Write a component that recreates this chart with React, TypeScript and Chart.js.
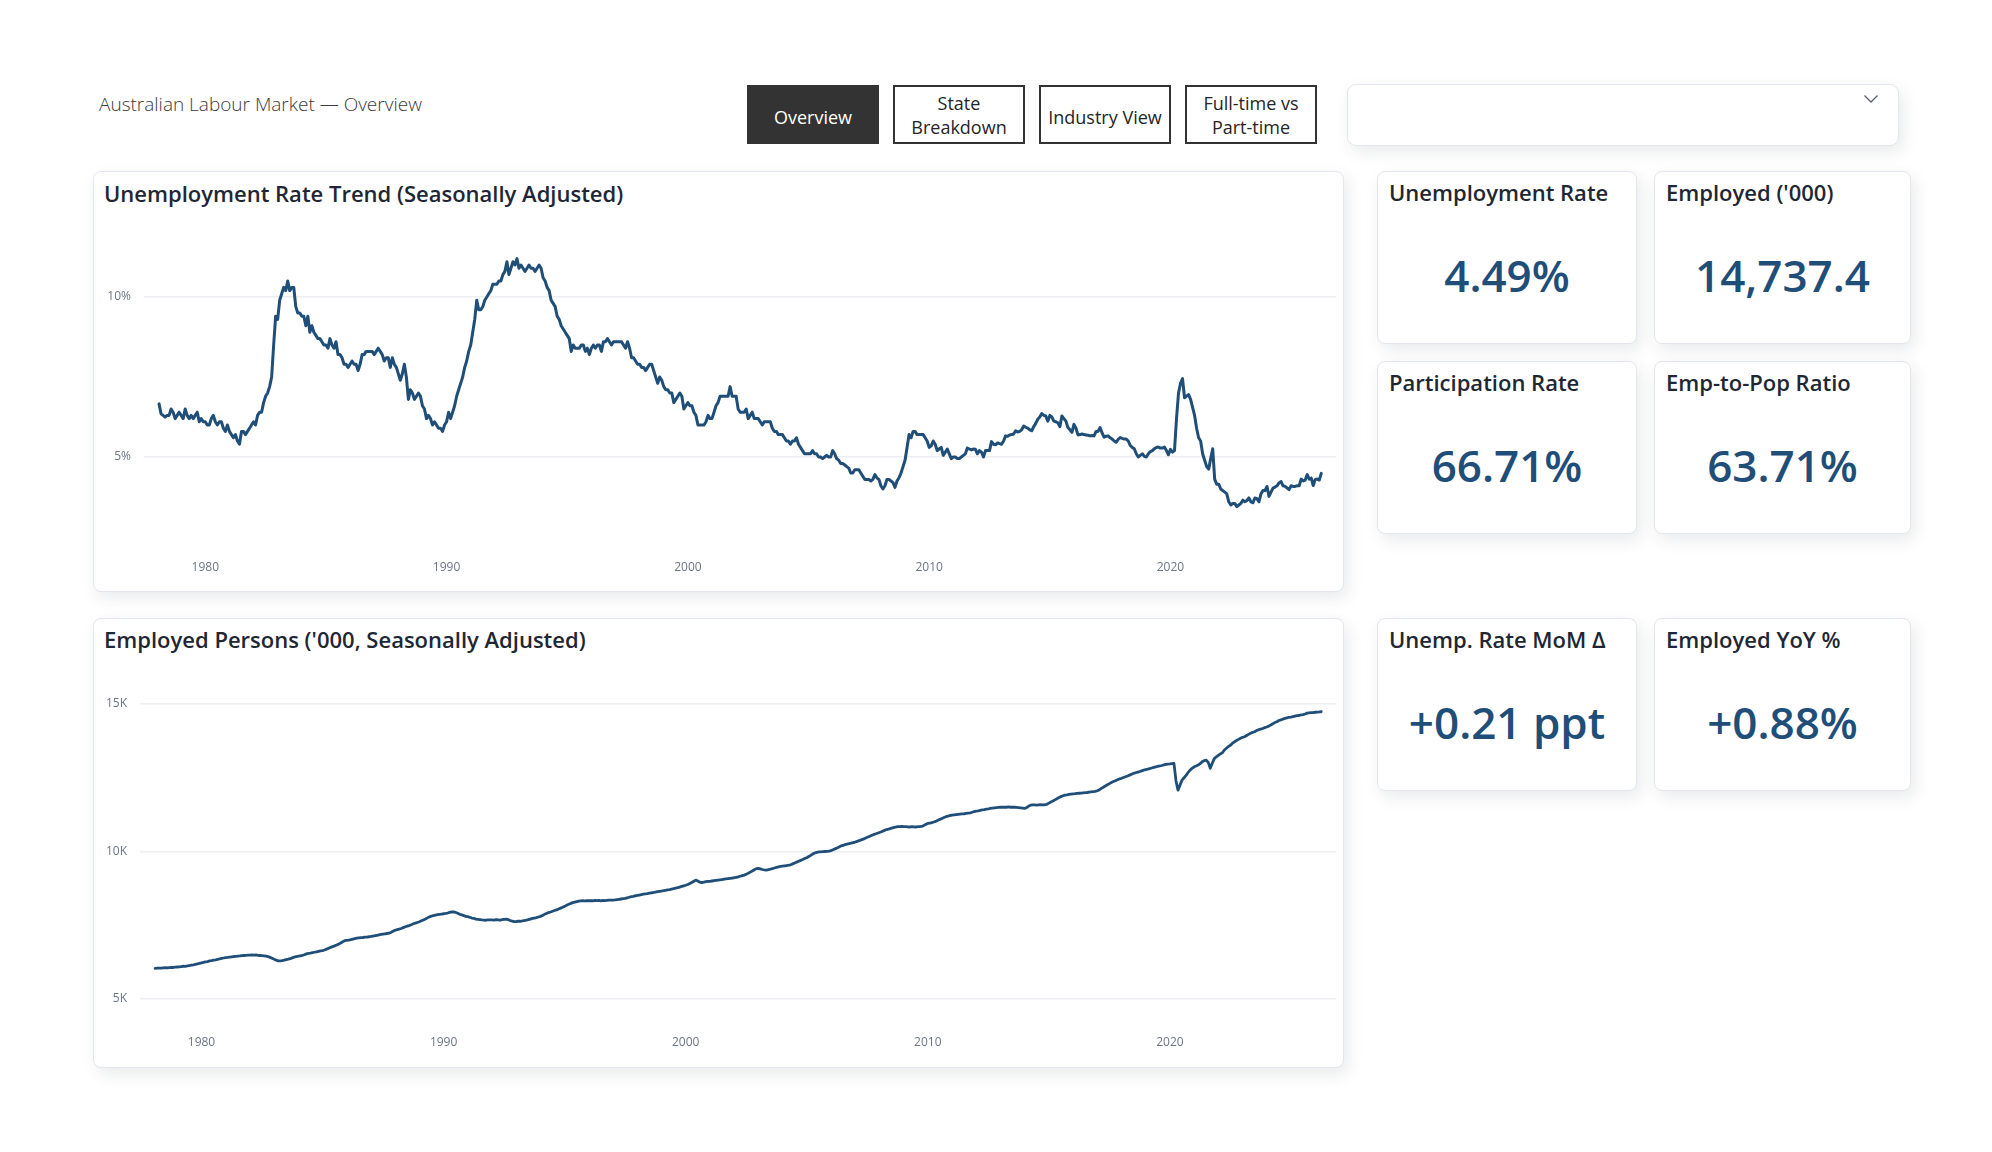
import React, { useEffect, useRef } from "react";
import { Chart, registerables } from "chart.js";

Chart.register(...registerables);

// ---------- DATA ----------
const FIRST_YEAR = 1978;
const FIRST_MONTH = 2; // Feb 1978, monthly observations

// Unemployment rate, % (seasonally adjusted), Feb 1978 .. Apr 2026
const unemploymentRate = [
  // 1978 (Feb-Dec)
  6.66, 6.35, 6.3, 6.25, 6.3, 6.3, 6.5, 6.4, 6.2, 6.3, 6.4,
  // 1979
  6.3, 6.2, 6.5, 6.3, 6.2, 6.3, 6.2, 6.3, 6.4, 6.1, 6.2, 6.1,
  // 1980
  6.1, 6.0, 6.0, 6.2, 6.3, 6.1, 6.0, 6.1, 6.1, 5.9, 5.8, 6.0,
  // 1981
  5.8, 5.7, 5.6, 5.7, 5.5, 5.4, 5.8, 5.8, 5.7, 5.8, 5.9, 6.0,
  // 1982
  6.1, 6.0, 6.3, 6.4, 6.4, 6.7, 6.9, 7.0, 7.2, 7.5, 8.5, 9.4,
  // 1983
  9.3, 9.9, 10.1, 10.3, 10.2, 10.5, 10.2, 10.3, 10.3, 9.7, 9.5, 9.5,
  // 1984
  9.4, 9.4, 9.1, 9.4, 8.9, 9.1, 8.9, 8.8, 8.7, 8.7, 8.6, 8.5,
  // 1985
  8.5, 8.4, 8.7, 8.5, 8.4, 8.6, 8.2, 8.2, 8.1, 7.9, 7.9, 7.8,
  // 1986
  7.9, 8.0, 7.9, 7.9, 7.7, 7.9, 8.2, 8.2, 8.3, 8.3, 8.3, 8.3,
  // 1987
  8.2, 8.3, 8.4, 8.3, 8.2, 8.0, 8.1, 8.1, 7.8, 8.1, 7.9, 7.8,
  // 1988
  7.6, 7.4, 7.6, 7.9, 7.5, 6.8, 7.1, 7.0, 6.8, 6.9, 7.0, 6.9,
  // 1989
  6.6, 6.5, 6.2, 6.3, 6.2, 6.0, 6.1, 6.0, 5.9, 5.9, 5.8, 6.0,
  // 1990
  6.1, 6.4, 6.2, 6.4, 6.6, 6.9, 7.1, 7.3, 7.5, 7.8, 8.0, 8.3,
  // 1991
  8.5, 8.9, 9.3, 9.9, 9.6, 9.6, 9.7, 9.9, 10.0, 10.1, 10.2, 10.4,
  // 1992
  10.4, 10.4, 10.5, 10.5, 10.7, 10.8, 11.1, 10.7, 10.9, 11.1, 11.0, 11.2,
  // 1993
  10.9, 11.0, 10.9, 10.8, 10.9, 11.0, 10.9, 10.9, 10.8, 10.9, 11.0, 10.9,
  // 1994
  10.6, 10.5, 10.3, 10.2, 9.9, 9.8, 9.7, 9.4, 9.3, 9.1, 9.0, 8.9,
  // 1995
  8.8, 8.7, 8.3, 8.5, 8.4, 8.4, 8.4, 8.5, 8.5, 8.3, 8.4, 8.2,
  // 1996
  8.4, 8.5, 8.4, 8.5, 8.5, 8.3, 8.6, 8.6, 8.7, 8.6, 8.5, 8.6,
  // 1997
  8.6, 8.6, 8.6, 8.6, 8.5, 8.4, 8.6, 8.4, 8.1, 8.1, 8.0, 7.9,
  // 1998
  7.9, 7.8, 7.8, 7.7, 7.8, 7.9, 7.9, 7.7, 7.5, 7.3, 7.5, 7.4,
  // 1999
  7.2, 7.1, 7.1, 7.0, 7.0, 6.7, 6.8, 6.9, 7.0, 6.9, 6.5, 6.6,
  // 2000
  6.7, 6.6, 6.6, 6.4, 6.3, 6.0, 6.0, 6.0, 6.0, 6.1, 6.3, 6.2,
  // 2001
  6.2, 6.4, 6.6, 6.7, 6.9, 6.9, 6.9, 6.9, 6.9, 7.2, 6.9, 6.9,
  // 2002
  6.9, 6.5, 6.4, 6.4, 6.4, 6.5, 6.2, 6.3, 6.4, 6.2, 6.2, 6.2,
  // 2003
  6.1, 6.0, 6.1, 6.1, 6.1, 6.1, 5.9, 5.8, 5.8, 5.7, 5.7, 5.7,
  // 2004
  5.6, 5.5, 5.5, 5.4, 5.5, 5.5, 5.6, 5.4, 5.3, 5.2, 5.1, 5.1,
  // 2005
  5.1, 5.1, 5.2, 5.1, 5.1, 5.0, 5.0, 4.95, 5.0, 5.05, 5.0, 5.0,
  // 2006
  5.2, 5.1, 4.95, 4.9, 4.8, 4.8, 4.75, 4.7, 4.65, 4.5, 4.5, 4.6,
  // 2007
  4.6, 4.6, 4.5, 4.4, 4.3, 4.3, 4.3, 4.25, 4.3, 4.45, 4.35, 4.3,
  // 2008
  4.1, 4.0, 4.1, 4.3, 4.3, 4.25, 4.2, 4.05, 4.25, 4.35, 4.5, 4.7,
  // 2009
  4.9, 5.3, 5.7, 5.6, 5.8, 5.8, 5.7, 5.7, 5.7, 5.7, 5.6, 5.5,
  // 2010
  5.3, 5.35, 5.5, 5.4, 5.2, 5.25, 5.3, 5.05, 5.15, 5.25, 5.1, 4.95,
  // 2011
  5.0, 5.0, 4.95, 4.95, 5.0, 5.05, 5.1, 5.28, 5.25, 5.22, 5.25, 5.24,
  // 2012
  5.1, 5.2, 5.15, 5.0, 5.2, 5.2, 5.2, 5.48, 5.4, 5.38, 5.44, 5.42,
  // 2013
  5.4, 5.5, 5.66, 5.65, 5.69, 5.7, 5.72, 5.82, 5.78, 5.8, 5.85, 5.97,
  // 2014
  5.93, 5.9, 5.85, 5.82, 5.95, 6.05, 6.18, 6.25, 6.36, 6.3, 6.28, 6.12,
  // 2015
  6.3, 6.25, 6.12, 6.1, 6.07, 5.95, 6.28, 6.2, 6.12, 5.92, 5.85, 5.77,
  // 2016
  6.02, 5.9, 5.69, 5.7, 5.72, 5.7, 5.69, 5.68, 5.66, 5.67, 5.66, 5.8,
  // 2017
  5.8, 5.92, 5.75, 5.62, 5.65, 5.66, 5.6, 5.56, 5.5, 5.46, 5.55, 5.61,
  // 2018
  5.58, 5.56, 5.56, 5.5, 5.36, 5.3, 5.26, 5.1, 5.0, 5.05, 5.1, 5.02,
  // 2019
  5.0, 5.1, 5.17, 5.2, 5.26, 5.3, 5.31, 5.28, 5.28, 5.31, 5.2, 5.07,
  // 2020
  5.24, 5.15, 5.2, 6.2, 7.0, 7.3, 7.45, 6.85, 6.9, 6.95, 6.8, 6.55,
  // 2021
  6.3, 5.9, 5.6, 5.5, 5.1, 4.9, 4.7, 4.62, 4.95, 5.26, 4.3, 4.15,
  // 2022
  4.15, 4.0, 3.95, 3.9, 3.85, 3.6, 3.5, 3.55, 3.55, 3.45, 3.5, 3.55,
  // 2023
  3.65, 3.6, 3.64, 3.72, 3.6, 3.57, 3.72, 3.7, 3.6, 3.85, 3.95, 3.95,
  // 2024
  4.08, 3.77, 3.9, 4.03, 4.06, 4.1, 4.19, 4.23, 4.1, 4.08, 4.03, 3.98,
  // 2025
  4.1, 4.08, 4.08, 4.1, 4.1, 4.31, 4.25, 4.28, 4.45, 4.31, 4.34, 4.11,
  // 2026 (Jan-Apr)
  4.3, 4.31, 4.28, 4.49,
];

// Employed persons, '000 (seasonally adjusted), Feb 1978 .. Apr 2026
const employedThousands = [
  // 1978 (Feb-Dec)
  6040, 6045, 6050, 6048, 6055, 6060, 6052, 6065, 6070, 6068, 6080,
  // 1979
  6085, 6090, 6100, 6110, 6105, 6120, 6135, 6150, 6160, 6175, 6190, 6205,
  // 1980
  6225, 6240, 6260, 6270, 6290, 6300, 6320, 6330, 6345, 6360, 6375, 6390,
  // 1981
  6405, 6410, 6420, 6430, 6440, 6445, 6455, 6460, 6470, 6475, 6480, 6485,
  // 1982
  6490, 6495, 6488, 6492, 6480, 6475, 6470, 6465, 6455, 6440, 6410, 6380,
  // 1983
  6345, 6315, 6295, 6290, 6300, 6315, 6335, 6350, 6370, 6395, 6420, 6440,
  // 1984
  6450, 6465, 6480, 6500, 6530, 6545, 6555, 6570, 6585, 6600, 6615, 6630,
  // 1985
  6640, 6660, 6690, 6720, 6750, 6775, 6800, 6830, 6860, 6900, 6940, 6975,
  // 1986
  6985, 6995, 7010, 7030, 7045, 7060, 7070, 7080, 7085, 7095, 7100, 7110,
  // 1987
  7120, 7135, 7145, 7160, 7175, 7190, 7200, 7210, 7220, 7230, 7260, 7300,
  // 1988
  7330, 7350, 7370, 7390, 7420, 7450, 7470, 7490, 7520, 7550, 7570, 7595,
  // 1989
  7620, 7650, 7680, 7710, 7750, 7785, 7810, 7830, 7845, 7860, 7870, 7880,
  // 1990
  7890, 7900, 7915, 7935, 7950, 7950, 7935, 7905, 7870, 7850, 7825, 7800,
  // 1991
  7790, 7770, 7745, 7730, 7710, 7700, 7690, 7680, 7675, 7670, 7680, 7685,
  // 1992
  7680, 7675, 7690, 7680, 7670, 7690, 7700, 7705, 7690, 7660, 7640, 7620,
  // 1993
  7625, 7640, 7635, 7645, 7660, 7670, 7690, 7710, 7730, 7745, 7760, 7780,
  // 1994
  7800, 7830, 7870, 7900, 7930, 7950, 7975, 8000, 8020, 8050, 8080, 8110,
  // 1995
  8140, 8180, 8210, 8240, 8265, 8285, 8300, 8320, 8325, 8330, 8325, 8330,
  // 1996
  8330, 8335, 8330, 8340, 8335, 8345, 8330, 8340, 8335, 8345, 8350, 8355,
  // 1997
  8355, 8360, 8370, 8380, 8390, 8400, 8410, 8430, 8450, 8470, 8480, 8495,
  // 1998
  8510, 8525, 8540, 8555, 8565, 8575, 8590, 8600, 8610, 8625, 8640, 8650,
  // 1999
  8660, 8670, 8685, 8700, 8710, 8725, 8740, 8760, 8775, 8795, 8815, 8835,
  // 2000
  8855, 8880, 8910, 8950, 8990, 9030, 9000, 8960, 8945, 8960, 8975, 8985,
  // 2001
  8990, 9000, 9010, 9020, 9030, 9040, 9050, 9060, 9070, 9080, 9090, 9100,
  // 2002
  9110, 9125, 9140, 9160, 9180, 9200, 9230, 9260, 9300, 9340, 9380, 9420,
  // 2003
  9430, 9410, 9390, 9375, 9370, 9385, 9400, 9420, 9440, 9460, 9480, 9495,
  // 2004
  9505, 9515, 9525, 9535, 9550, 9580, 9610, 9640, 9670, 9700, 9730, 9765,
  // 2005
  9790, 9830, 9870, 9920, 9950, 9970, 9985, 9990, 9995, 10000, 10005, 10010,
  // 2006
  10030, 10060, 10090, 10120, 10150, 10190, 10210, 10230, 10250, 10270, 10285, 10300,
  // 2007
  10320, 10345, 10370, 10395, 10420, 10450, 10480, 10510, 10540, 10570, 10595, 10620,
  // 2008
  10645, 10670, 10700, 10730, 10750, 10770, 10790, 10810, 10830, 10840, 10845, 10850,
  // 2009
  10845, 10840, 10835, 10830, 10840, 10835, 10830, 10840, 10845, 10850, 10880, 10920,
  // 2010
  10950, 10965, 10980, 11000, 11020, 11060, 11090, 11120, 11150, 11180, 11200, 11220,
  // 2011
  11230, 11240, 11250, 11260, 11270, 11275, 11280, 11290, 11300, 11310, 11330, 11355,
  // 2012
  11370, 11380, 11395, 11410, 11420, 11435, 11445, 11460, 11470, 11480, 11490, 11495,
  // 2013
  11500, 11500, 11505, 11500, 11510, 11500, 11505, 11500, 11495, 11490, 11480, 11470,
  // 2014
  11460, 11490, 11540, 11570, 11580, 11580, 11575, 11580, 11585, 11580, 11585, 11600,
  // 2015
  11640, 11680, 11710, 11750, 11790, 11830, 11860, 11890, 11910, 11920, 11935, 11945,
  // 2016
  11955, 11960, 11970, 11975, 11980, 11990, 11995, 12000, 12010, 12020, 12030, 12040,
  // 2017
  12060, 12090, 12140, 12180, 12220, 12260, 12300, 12340, 12370, 12400, 12430, 12460,
  // 2018
  12480, 12510, 12535, 12560, 12590, 12620, 12650, 12670, 12690, 12710, 12735, 12760,
  // 2019
  12775, 12790, 12810, 12830, 12850, 12870, 12890, 12900, 12915, 12935, 12950, 12965,
  // 2020
  12970, 12980, 12990, 12400, 12080, 12250, 12420, 12500, 12580, 12680, 12760, 12820,
  // 2021
  12870, 12900, 12930, 12980, 13040, 13080, 13100, 13020, 12820, 12990, 13150, 13210,
  // 2022
  13260, 13310, 13350, 13440, 13500, 13560, 13600, 13670, 13720, 13760, 13800, 13840,
  // 2023
  13870, 13890, 13930, 13970, 14010, 14040, 14060, 14100, 14130, 14150, 14170, 14200,
  // 2024
  14220, 14250, 14290, 14330, 14370, 14400, 14440, 14460, 14490, 14510, 14530, 14550,
  // 2025
  14555, 14570, 14590, 14609, 14610, 14630, 14640, 14660, 14690, 14700, 14710, 14710,
  // 2026 (Jan-Apr)
  14720, 14725, 14730, 14737.4,
];

const xTickYears = [1980, 1990, 2000, 2010, 2020];
const unempTicks = [5, 10];
const employedTicks = [5000, 10000, 15000];

const navButtons = ["Overview", "State\nBreakdown", "Industry View", "Full-time vs\nPart-time"];

const kpiLabels = [
  "Unemployment Rate",
  "Employed ('000)",
  "Participation Rate",
  "Emp-to-Pop Ratio",
  "Unemp. Rate MoM \u0394",
  "Employed YoY %",
];
const kpiValues = ["4.49%", "14,737.4", "66.71%", "63.71%", "+0.21 ppt", "+0.88%"];

// ---------- STYLE ----------
const FONT = "'Segoe UI', 'Open Sans', 'Noto Sans', sans-serif";
const LINE_COLOR = "#1f4e79";
const TITLE_COLOR = "#1e2733";
const TICK_COLOR = "#6b7585";
const GRID_COLOR = "#eceef2";
const X_MIN = 1977.46;
const X_MAX = 2026.86;

// month index -> decimal year (x position on the time axis)
const monthToYear = (i: number) => FIRST_YEAR + (FIRST_MONTH - 1 + i) / 12;

type ChartBox = {
  left: number;
  top: number;
  width: number;
  height: number;
  yAxisWidth: number;
  xAxisHeight: number;
  padTop: number;
  padRight: number;
};

function LineChart(props: {
  values: number[];
  yMin: number;
  yMax: number;
  yTicks: number[];
  yFormat: (v: number) => string;
  lineWidth: number;
  box: ChartBox;
}) {
  const ref = useRef<HTMLCanvasElement | null>(null);
  const { values, yMin, yMax, yTicks, yFormat, box, lineWidth } = props;
  useEffect(() => {
    if (!ref.current) return;
    const chart = new Chart(ref.current, {
      type: "line",
      data: {
        datasets: [
          {
            data: values.map((v, i) => ({ x: monthToYear(i), y: v })),
            borderColor: LINE_COLOR,
            borderWidth: lineWidth,
            pointRadius: 0,
            pointHoverRadius: 0,
            tension: 0,
            fill: false,
            borderJoinStyle: "round",
            borderCapStyle: "round",
          },
        ],
      },
      options: {
        responsive: false,
        animation: false,
        devicePixelRatio: 1,
        events: [],
        layout: { padding: { top: box.padTop, right: box.padRight, left: 0, bottom: 0 } },
        plugins: { legend: { display: false }, tooltip: { enabled: false } },
        scales: {
          x: {
            type: "linear",
            min: X_MIN,
            max: X_MAX,
            afterBuildTicks: (axis: any) => {
              axis.ticks = xTickYears.map((v) => ({ value: v }));
            },
            afterFit: (axis: any) => {
              axis.height = box.xAxisHeight;
            },
            grid: { display: false, drawTicks: false },
            border: { display: false },
            ticks: {
              autoSkip: false,
              maxRotation: 0,
              padding: 7,
              color: TICK_COLOR,
              font: { family: FONT, size: 12 },
              callback: (v: any) => String(v),
            },
          },
          y: {
            type: "linear",
            min: yMin,
            max: yMax,
            afterBuildTicks: (axis: any) => {
              axis.ticks = yTicks.map((v) => ({ value: v }));
            },
            afterFit: (axis: any) => {
              axis.width = box.yAxisWidth;
            },
            grid: { color: GRID_COLOR, lineWidth: 1.6, drawTicks: false },
            border: { display: false },
            ticks: {
              padding: 13,
              color: TICK_COLOR,
              font: { family: FONT, size: 12 },
              callback: (v: any) => yFormat(Number(v)),
            },
          },
        },
      },
    } as any);
    return () => chart.destroy();
  }, []);
  return (
    <canvas
      ref={ref}
      width={box.width}
      height={box.height}
      style={{ position: "absolute", left: box.left, top: box.top, width: box.width, height: box.height }}
    />
  );
}

const cardStyle = (left: number, top: number, width: number, height: number): React.CSSProperties => ({
  position: "absolute",
  left,
  top,
  width,
  height,
  boxSizing: "border-box",
  background: "#ffffff",
  border: "1px solid #e3e6ec",
  borderRadius: 8,
  boxShadow: "4px 6px 16px rgba(40, 50, 70, 0.10)",
});

function KpiCard(props: { left: number; top: number; width: number; label: string; value: string }) {
  const { left, top, width, label, value } = props;
  return (
    <div style={cardStyle(left, top, width, 173)}>
      <div
        style={{
          position: "absolute",
          left: 11,
          top: 5,
          fontSize: 22,
          fontWeight: 600,
          color: TITLE_COLOR,
          whiteSpace: "nowrap",
          lineHeight: "30px",
        }}
      >
        {label}
      </div>
      <div
        style={{
          position: "absolute",
          left: 0,
          right: 0,
          top: 103 - 30,
          height: 60,
          lineHeight: "60px",
          textAlign: "center",
          fontSize: 44,
          fontWeight: 600,
          color: LINE_COLOR,
          whiteSpace: "nowrap",
        }}
      >
        {value}
      </div>
    </div>
  );
}

export default function App() {
  const btnLefts = [747, 893, 1039, 1185];
  return (
    <div
      style={{
        position: "absolute",
        left: 0,
        top: 0,
        width: 1992,
        height: 1152,
        background: "#ffffff",
        fontFamily: FONT,
        overflow: "hidden",
      }}
    >
      {/* page title */}
      <div
        style={{
          position: "absolute",
          left: 99,
          top: 104 - 14,
          height: 28,
          lineHeight: "28px",
          fontSize: 19,
          fontWeight: 300,
          color: "#3a3a3a",
          whiteSpace: "nowrap",
        }}
      >
        Australian Labour Market — Overview
      </div>

      {/* nav buttons */}
      {navButtons.map((b, i) => (
        <div
          key={b}
          style={{
            position: "absolute",
            left: btnLefts[i],
            top: 85,
            width: 132,
            height: 59,
            boxSizing: "border-box",
            border: "2px solid #333333",
            background: i === 0 ? "#333333" : "#ffffff",
            color: i === 0 ? "#ffffff" : "#252525",
            fontSize: 18,
            lineHeight: "24px",
            display: "flex",
            alignItems: "center",
            justifyContent: "center",
            textAlign: "center",
            whiteSpace: "pre-line",
            paddingTop: b.includes("\n") ? 0 : 5,
          }}
        >
          {b}
        </div>
      ))}

      {/* dropdown */}
      <div style={{ ...cardStyle(1347, 84, 552, 62), borderRadius: 9 }}>
        <svg
          width={16}
          height={10}
          style={{ position: "absolute", left: 1870 - 1347 - 8, top: 99 - 84 - 6 }}
        >
          <polyline points="1.5,1.5 8,8 14.5,1.5" fill="none" stroke="#5b6270" strokeWidth={1.3} />
        </svg>
      </div>

      {/* chart cards */}
      <div style={cardStyle(93, 171, 1251, 421)}>
        <div
          style={{
            position: "absolute",
            left: 10,
            top: 6,
            fontSize: 22,
            fontWeight: 600,
            color: TITLE_COLOR,
            whiteSpace: "nowrap",
            lineHeight: "30px",
          }}
        >
          Unemployment Rate Trend (Seasonally Adjusted)
        </div>
      </div>
      <div style={cardStyle(93, 618, 1251, 450)}>
        <div
          style={{
            position: "absolute",
            left: 10,
            top: 5,
            fontSize: 22,
            fontWeight: 600,
            color: TITLE_COLOR,
            whiteSpace: "nowrap",
            lineHeight: "30px",
          }}
        >
          Employed Persons ('000, Seasonally Adjusted)
        </div>
      </div>

      <LineChart
        values={unemploymentRate}
        yMin={2}
        yMax={12.4}
        yTicks={unempTicks}
        yFormat={(v) => `${v}%`}
        lineWidth={3}
        box={{ left: 100, top: 200, width: 1240, height: 392, yAxisWidth: 44, xAxisHeight: 39, padTop: 14, padRight: 4 }}
      />
      <LineChart
        values={employedThousands}
        yMin={4000}
        yMax={15800}
        yTicks={employedTicks}
        yFormat={(v) => `${v / 1000}K`}
        lineWidth={2.8}
        box={{ left: 96, top: 660, width: 1244, height: 405, yAxisWidth: 44, xAxisHeight: 36.5, padTop: 20.4, padRight: 4 }}
      />

      {/* KPI cards */}
      <KpiCard left={1377} top={171} width={260} label={kpiLabels[0]} value={kpiValues[0]} />
      <KpiCard left={1654} top={171} width={257} label={kpiLabels[1]} value={kpiValues[1]} />
      <KpiCard left={1377} top={361} width={260} label={kpiLabels[2]} value={kpiValues[2]} />
      <KpiCard left={1654} top={361} width={257} label={kpiLabels[3]} value={kpiValues[3]} />
      <KpiCard left={1377} top={618} width={260} label={kpiLabels[4]} value={kpiValues[4]} />
      <KpiCard left={1654} top={618} width={257} label={kpiLabels[5]} value={kpiValues[5]} />
    </div>
  );
}
